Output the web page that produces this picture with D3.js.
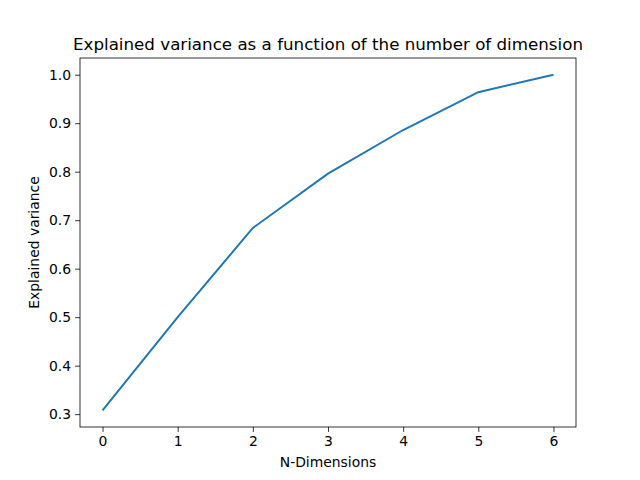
<!DOCTYPE html>
<html><head><meta charset="utf-8">
<script src="https://cdn.jsdelivr.net/npm/d3@7"></script>
<style>body{margin:0;background:#fff}text{font-family:"DejaVu Sans",sans-serif}</style>
</head><body><svg id="c" width="640" height="480"></svg>
<script>
const dims = [0,1,2,3,4,5,6];
const variance = [0.308,0.500,0.684,0.796,0.886,0.964,1.0];
const yTicks = [0.3,0.4,0.5,0.6,0.7,0.8,0.9,1.0];
const title = "Explained variance as a function of the number of dimension";
const xLabel = "N-Dimensions", yLabel = "Explained variance";

const svg = d3.select("#c");
const L=80,R=576,T=58,B=427;
const x = d3.scaleLinear().domain([-0.3,6.3]).range([L,R]);
const y = d3.scaleLinear().domain([0.2735,1.0345]).range([B,T]);

const xa = svg.append("g").attr("transform",`translate(0,${B})`)
  .call(d3.axisBottom(x).tickValues(dims).tickFormat(d3.format("d")).tickSize(4.9).tickPadding(4));
const ya = svg.append("g").attr("transform",`translate(${L},0)`)
  .call(d3.axisLeft(y).tickValues(yTicks).tickFormat(d3.format(".1f")).tickSize(4.9).tickPadding(4));
[xa,ya].forEach(a=>{a.select(".domain").remove();a.selectAll("text").attr("font-size",13.9).attr("fill","#000").style("font-family","DejaVu Sans");a.selectAll("line").attr("stroke","#000").attr("stroke-width",0.8);});

svg.append("rect").attr("x",L).attr("y",T).attr("width",R-L).attr("height",B-T)
  .attr("fill","none").attr("stroke","#000").attr("stroke-width",0.8);

svg.append("path").datum(dims.map((d,i)=>[d,variance[i]]))
  .attr("d",d3.line().x(d=>x(d[0])).y(d=>y(d[1])))
  .attr("fill","none").attr("stroke","#1f77b4").attr("stroke-width",2);

svg.append("text").attr("x",(L+R)/2).attr("y",T-8).attr("text-anchor","middle").attr("font-size",16.7).text(title);
svg.append("text").attr("x",(L+R)/2).attr("y",467).attr("text-anchor","middle").attr("font-size",13.9).text(xLabel);
svg.append("text").attr("transform",`translate(39,${(T+B)/2}) rotate(-90)`).attr("text-anchor","middle").attr("font-size",13.9).text(yLabel);
</script></body></html>
